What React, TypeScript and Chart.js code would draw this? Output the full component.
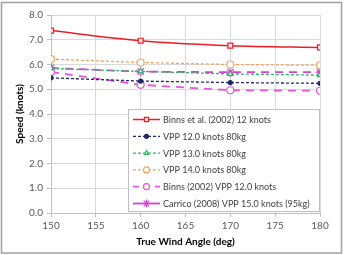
import React, { useEffect, useRef } from "react";
import { Chart, registerables } from "chart.js";
import { drawPoint } from "chart.js/helpers";

Chart.register(...registerables);

// True wind angle (deg) and boat speed (knots)
const angles = [150, 160, 170, 180];
const binns12 = [7.37, 6.96, 6.76, 6.69];
const vpp12 = [5.46, 5.33, 5.27, 5.24];
const vpp13 = [5.84, 5.72, 5.62, 5.57];
const vpp14 = [6.22, 6.08, 6.0, 5.97];
const binnsVpp12 = [5.7, 5.18, 4.96, 4.94];
const carrico15 = [5.86, 5.71, 5.69, 5.69];

const seriesLabels = [
  "Binns et al. (2002) 12 knots",
  "VPP 12.0 knots 80kg",
  "VPP 13.0 knots 80kg",
  "VPP 14.0 knots 80kg",
  "Binns (2002) VPP 12.0 knots",
  "Carrico (2008) VPP 15.0 knots (95kg)",
];

const FONT = "Lato, 'Open Sans', sans-serif";

// dash patterns used in the legend samples
const legendDash = [[], [3, 2], [3, 2], [3, 2], [6, 5], []];

const frameAndLegend = {
  id: "frameAndLegend",
  beforeDraw(chart: any) {
    const ctx = chart.ctx;
    ctx.save();
    ctx.fillStyle = "#ffffff";
    ctx.fillRect(0, 0, chart.width, chart.height);
    ctx.strokeStyle = "#a0a0a0";
    ctx.lineWidth = 1.5;
    ctx.strokeRect(1.5, 2.5, 340, 250.5);
    ctx.restore();
  },
  afterDatasetsDraw(chart: any) {
    const ctx = chart.ctx;
    ctx.save();
    const x0 = 128.5, y0 = 109.5, w = 191, h = 102;
    ctx.fillStyle = "#ffffff";
    ctx.fillRect(x0, y0, w, h);
    ctx.strokeStyle = "#bfbfbf";
    ctx.lineWidth = 1;
    ctx.strokeRect(x0, y0, w, h);
    chart.data.datasets.forEach((ds: any, i: number) => {
      const y = 119.5 + i * 16.8;
      ctx.save();
      ctx.strokeStyle = ds.borderColor;
      ctx.lineWidth = ds.borderWidth;
      ctx.setLineDash(legendDash[i]);
      ctx.beginPath();
      ctx.moveTo(133, y);
      ctx.lineTo(160, y);
      ctx.stroke();
      ctx.restore();
      ctx.save();
      ctx.fillStyle = ds.pointBackgroundColor;
      ctx.strokeStyle = ds.pointBorderColor;
      ctx.lineWidth = ds.pointBorderWidth;
      const r = Math.max(2, ds.pointRadius - 0.5);
      drawPoint(ctx, { pointStyle: ds.pointStyle, rotation: 0, radius: r, borderWidth: ds.pointBorderWidth }, 146.5, y);
      ctx.restore();
      ctx.fillStyle = "#404040";
      ctx.font = `9px ${FONT}`;
      ctx.textBaseline = "middle";
      ctx.textAlign = "left";
      ctx.fillText(ds.label, 163, y + 0.5);
    });
    ctx.restore();
  },
};

function makeSeries(label: string, data: number[], color: string, fill: string, style: string, radius: number, dash: number[], width: number, tension: number) {
  return {
    label,
    data: angles.map((a, i) => ({ x: a, y: data[i] })),
    borderColor: color,
    borderWidth: width,
    borderDash: dash,
    pointStyle: style,
    pointRadius: radius,
    pointBorderColor: color,
    pointBackgroundColor: fill,
    pointBorderWidth: 1.2,
    tension,
    fill: false,
  };
}

export default function App() {
  const ref = useRef<HTMLCanvasElement | null>(null);
  useEffect(() => {
    if (!ref.current) return;
    const datasets = [
      makeSeries(seriesLabels[0], binns12, "#ee1c25", "#fde6e6", "rect", 3.5, [], 1.5, 0.3),
      makeSeries(seriesLabels[1], vpp12, "#1f2a66", "#1f2a66", "circle", 2, [3, 2], 1.3, 0),
      makeSeries(seriesLabels[2], vpp13, "#2bb36a", "#ffffff", "triangle", 3, [3, 2], 1.3, 0),
      makeSeries(seriesLabels[3], vpp14, "#f4a460", "#ffffff", "circle", 3.5, [3, 2], 1.3, 0),
      makeSeries(seriesLabels[4], binnsVpp12, "#e855d8", "#ffffff", "circle", 3.5, [8, 6], 1.8, 0),
      makeSeries(seriesLabels[5], carrico15, "#dc3fd6", "#dc3fd6", "star", 4.5, [8, 6], 1.8, 0),
    ];
    const chart = new Chart(ref.current, {
      type: "line",
      data: { datasets },
      plugins: [frameAndLegend],
      options: {
        animation: false,
        responsive: false,
        devicePixelRatio: 1,
        layout: { padding: { left: 0, top: 15, right: 25, bottom: 0 } },
        plugins: { legend: { display: false }, tooltip: { enabled: false } },
        scales: {
          x: {
            type: "linear",
            min: 150,
            max: 180,
            ticks: { stepSize: 5, color: "#595959", font: { family: FONT, size: 10 }, padding: 3, maxRotation: 0 },
            grid: { color: "#d9d9d9", tickLength: 4, tickColor: "#bfbfbf" },
            border: { color: "#bfbfbf" },
            title: { display: true, text: "True Wind Angle (deg)", color: "#000000", font: { family: FONT, size: 10, weight: "bold" }, padding: { top: 0, bottom: 7 } },
            afterFit: (s: any) => { s.height = 42; },
          },
          y: {
            min: 0,
            max: 8,
            ticks: { stepSize: 1, color: "#595959", font: { family: FONT, size: 10 }, padding: 4, callback: (v: any) => Number(v).toFixed(1) },
            grid: { color: "#d9d9d9", tickLength: 4, tickColor: "#bfbfbf" },
            border: { color: "#bfbfbf" },
            title: { display: true, text: "Speed (knots)", color: "#000000", font: { family: FONT, size: 10, weight: "bold" }, padding: { top: 14, bottom: 0 } },
            afterFit: (s: any) => { s.width = 51; },
          },
        },
      },
    } as any);
    return () => chart.destroy();
  }, []);
  return (
    <div style={{ position: "absolute", left: 0, top: 0, width: 345, height: 255 }}>
      <canvas ref={ref} width={345} height={255} style={{ display: "block" }} />
    </div>
  );
}
